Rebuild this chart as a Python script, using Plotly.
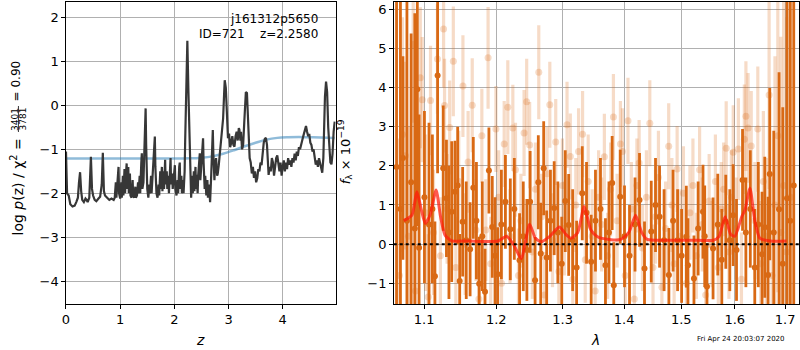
import plotly.graph_objects as go

# ---------------- redshift fit: log p(z) and chi2-based prior curve ----------------
z_grid = [0.00, 0.01, 0.02, 0.05, 0.08, 0.12, 0.16, 0.19, 0.22, 0.24,
          0.26, 0.28, 0.30, 0.33, 0.36, 0.38, 0.40, 0.43, 0.45, 0.46,
          0.48, 0.50, 0.53, 0.56, 0.60, 0.63, 0.66, 0.68, 0.70, 0.72,
          0.76, 0.80, 0.84, 0.88,
          0.90, 0.92, 0.93, 0.95, 0.97, 0.98, 1.00, 1.02, 1.03, 1.05,
          1.06, 1.08, 1.09, 1.11, 1.12, 1.13, 1.15, 1.16, 1.18, 1.19,
          1.21, 1.23, 1.24, 1.26, 1.28, 1.29, 1.31, 1.33, 1.34, 1.36,
          1.37, 1.39, 1.40, 1.41, 1.43, 1.44, 1.46, 1.47, 1.48, 1.50,
          1.52, 1.54, 1.55, 1.57, 1.58, 1.60, 1.62, 1.64, 1.65, 1.67,
          1.69, 1.71, 1.72, 1.74, 1.75, 1.77, 1.78, 1.80, 1.81, 1.83,
          1.84, 1.86, 1.87, 1.89, 1.90, 1.92, 1.93, 1.94, 1.96, 1.97,
          1.99, 2.01, 2.02, 2.04, 2.06, 2.07, 2.09, 2.10, 2.11, 2.13,
          2.14, 2.16, 2.17, 2.19,
          2.20, 2.22, 2.24, 2.26, 2.28, 2.30, 2.31, 2.33, 2.34, 2.36,
          2.37, 2.39, 2.40, 2.41, 2.43, 2.44, 2.46, 2.47, 2.48, 2.50,
          2.52, 2.53, 2.54, 2.56, 2.57, 2.59, 2.61, 2.62, 2.64, 2.66,
          2.68, 2.70, 2.71, 2.72, 2.74, 2.75, 2.77, 2.79, 2.80, 2.82,
          2.84, 2.86, 2.88, 2.90, 2.92, 2.93, 2.95, 2.97, 2.99, 3.01,
          3.03, 3.05, 3.07, 3.09, 3.11, 3.13, 3.15, 3.17, 3.19, 3.20,
          3.22, 3.23, 3.25, 3.27, 3.29, 3.31, 3.32, 3.34, 3.35, 3.37,
          3.39, 3.41, 3.43, 3.45, 3.47, 3.49, 3.51, 3.53, 3.55, 3.57,
          3.59, 3.61, 3.63, 3.65, 3.67, 3.69, 3.71, 3.72, 3.74, 3.76,
          3.78, 3.80, 3.82, 3.84, 3.86, 3.88, 3.90, 3.92, 3.94, 3.96,
          3.98, 4.00, 4.02, 4.04, 4.06, 4.08, 4.10, 4.12, 4.14, 4.16,
          4.18, 4.20, 4.22, 4.24, 4.26, 4.28, 4.30, 4.32, 4.34, 4.36,
          4.38, 4.40, 4.42, 4.43, 4.45, 4.47, 4.49, 4.51, 4.53, 4.55,
          4.57, 4.59, 4.61, 4.63, 4.65, 4.67, 4.69, 4.71, 4.73, 4.75,
          4.76, 4.78, 4.80, 4.82, 4.84, 4.86, 4.88, 4.90, 4.92, 4.94,
          4.96]
log_pz = [-1.05, -1.70, -2.00, -2.05, -2.25, -2.30, -2.28, -2.20, -2.10, -1.75,
          -1.52, -1.95, -2.15, -2.20, -2.12, -2.15, -2.20, -2.10, -1.60, -1.17,
          -1.90, -2.05, -2.15, -2.18, -2.12, -2.08, -1.80, -1.08, -1.95, -2.05,
          -2.10, -2.15, -2.12, -2.15,
          -2.10, -1.75, -2.10, -1.70, -1.40, -2.00, -2.12, -1.75, -2.10, -1.60,
          -2.05, -1.45, -2.00, -1.50, -1.32, -1.90, -1.40, -2.00, -1.55, -2.05,
          -2.10, -1.70, -2.05, -2.10, -1.85, -2.10, -2.05, -1.75, -2.00, -1.60,
          -2.00, -1.30, -1.09, -1.90, -1.75, -1.30, -0.50, -0.07, -0.90, -1.90,
          -2.10, -1.80, -2.00, -1.60, -2.00, -1.50, -1.10, -0.71, -1.40, -2.00,
          -2.10, -1.80, -2.05, -1.50, -1.90, -1.40, -1.95, -1.50, -1.90, -1.24,
          -1.80, -1.50, -1.90, -1.60, -2.00, -1.30, -1.20, -1.80, -1.55, -1.90,
          -1.50, -1.36, -1.90, -2.05, -1.70, -2.00, -1.40, -1.30, -1.90, -1.60,
          -2.00, -1.70, -2.00, -1.50,
          -0.80, 0.60, 1.47, 0.30, -0.90, -1.70, -2.10, -1.60, -2.00, -1.50,
          -1.95, -1.40, -1.90, -1.58, -2.00, -1.60, -1.30, -1.09, -1.70, -1.40,
          -1.00, -0.75, -1.30, -1.90, -1.60, -2.05, -1.70, -2.10, -1.80, -2.20,
          -1.60, -0.90, -0.56, -1.10, -1.70, -1.40, -1.20, -1.60, -1.56, -1.36,
          -1.10, -0.90, -0.70, -0.30, 0.30, 0.57, 0.40, -0.30, -0.75, -0.64,
          -0.95, -0.85, -0.70, -0.90, -0.94, -0.70, -0.60, -0.80, -0.52, -0.55,
          -0.80, -0.60, -1.00, -0.90, -0.40, 0.20, 0.30, 0.28, -0.10, -0.80,
          -1.20, -1.30, -1.55, -1.40, -1.65, -1.50, -1.75, -1.66, -1.45, -1.50,
          -1.30, -1.36, -1.00, -0.85, -0.76, -0.74, -0.90, -1.20, -1.58, -1.40,
          -1.50, -1.20, -1.30, -1.60, -1.40, -1.20, -1.14, -1.35, -1.50, -1.30,
          -1.60, -1.40, -1.25, -1.50, -1.30, -1.45, -1.20, -1.35, -1.25, -1.40,
          -1.20, -1.30, -1.10, -1.25, -1.05, -1.15, -0.95, -1.00, -0.85, -0.80,
          -0.70, -0.60, -0.50, -0.47, -0.60, -0.70, -0.65, -0.85, -0.90, -1.05,
          -1.00, -1.20, -1.35, -1.25, -1.40, -1.20, -1.30, -1.45, -1.53, -1.20,
          -0.70, 0.20, 0.54, 0.30, -0.50, -1.00, -1.30, -1.34, -1.10, -0.60,
          -0.37]

prior_z = [0.0, 0.5, 1.0, 1.5, 2.0, 2.3, 2.5, 2.7, 2.9, 3.1, 3.3, 3.5, 3.7, 3.9, 4.1, 4.3, 4.5, 4.7, 4.96]
prior_val = [-1.21, -1.21, -1.21, -1.21, -1.21, -1.205, -1.19, -1.16, -1.10, -1.02, -0.93, -0.85,
             -0.78, -0.74, -0.725, -0.72, -0.725, -0.73, -0.74]

# ---------------- 1D spectrum: per-beam (light) and combined (dark) ----------------
wave_beam = [1.0677, 1.0716, 1.0755, 1.0794, 1.0856, 1.0886, 1.0949, 1.0975, 1.1019, 1.1054,
             1.1085, 1.1125, 1.1178, 1.1218, 1.1261, 1.1274, 1.1309, 1.1344, 1.1394, 1.1429,
             1.1469, 1.1527, 1.1558, 1.1599, 1.1657, 1.1709, 1.1751, 1.1793, 1.1849, 1.1882,
             1.1920, 1.1995, 1.2034, 1.2076, 1.2115, 1.2168, 1.2200, 1.2242, 1.2281, 1.2325,
             1.2362, 1.2409, 1.2448, 1.2493, 1.2534, 1.2580, 1.2631, 1.2672, 1.2719, 1.2757,
             1.2800, 1.2842, 1.2892, 1.2941, 1.2996, 1.3027, 1.3069, 1.3121, 1.3160, 1.3208,
             1.3252, 1.3316, 1.3359, 1.3407, 1.3471, 1.3520, 1.3576, 1.3626, 1.3671, 1.3724,
             1.3774, 1.3821, 1.3883, 1.3938, 1.3973, 1.4019, 1.4066, 1.4123, 1.4174, 1.4218,
             1.4256, 1.4313, 1.4382, 1.4441, 1.4497, 1.4541, 1.4592, 1.4653, 1.4719, 1.4774,
             1.4831, 1.4871, 1.4925, 1.4984, 1.5039, 1.5093, 1.5157, 1.5212, 1.5275, 1.5335,
             1.5384, 1.5448, 1.5513, 1.5567, 1.5630, 1.5685, 1.5740, 1.5786, 1.5835, 1.5887,
             1.5934, 1.5970, 1.6026, 1.6069, 1.6129, 1.6185, 1.6216, 1.6258, 1.6320, 1.6393,
             1.6450, 1.6507, 1.6561, 1.6617, 1.6676, 1.6736, 1.6794, 1.6852, 1.6912, 1.6970,
             1.7032, 1.7114]
flux_beam = [-0.80, 2.80, 2.26, 0.20, 5.10, -1.20, 4.25, 3.69, 0.80, -1.35,
             3.67, 0.30, 4.73, -0.30, 5.50, 3.54, 0.90, 2.98, 4.67, -0.60,
             1.60, 4.04, 0.00, 2.10, 3.55, 0.36, -1.40, 2.77, 0.36, 4.76,
             -0.50, 2.94, 1.20, -1.00, 2.56, 3.50, 0.20, 2.97, 1.90, -0.80,
             0.60, 2.84, 3.64, 2.53, -0.20, 1.40, 4.39, 0.70, -1.30, 1.80,
             3.56, 0.10, 2.61, -0.70, 1.50, 0.40, 3.05, 2.24, -0.90, 1.00,
             2.37, 2.81, -0.40, 1.60, 0.20, -1.20, 1.20, 0.50, 2.23, -0.30,
             1.40, 3.25, 0.60, 2.56, 2.37, -0.80, 3.15, 0.90, -1.40, 1.50,
             2.07, -0.10, 1.20, 3.09, -0.60, 0.70, 1.70, -1.10, 0.40, 2.50,
             1.00, -0.50, 1.92, 0.20, 1.30, -1.00, 0.80, 1.50, -0.30, 1.90,
             0.50, -1.30, 1.10, 0.00, 1.60, -0.60, 0.90, 1.40, 2.45, -0.20,
             1.20, 2.35, 0.40, 2.43, -0.90, 2.68, 3.27, 2.97, 2.51, 0.60,
             2.94, -0.50, 1.60, 0.20, 3.81, -0.80, 1.00, 2.77, 0.30, 1.50,
             -0.20, 1.20]
err_beam = [3.5, 3.0, 2.4, 2.8, 2.0, 2.2, 1.8, 1.6, 2.0, 1.6,
            1.4, 1.6, 1.4, 1.5, 1.5, 1.2, 1.4, 1.2, 1.4, 1.3,
            1.3, 1.3, 1.3, 1.3, 1.2, 1.3, 1.2, 1.2, 1.3, 1.3,
            1.2, 1.1, 1.2, 1.2, 1.1, 1.2, 1.2, 1.1, 1.2, 1.2,
            1.2, 1.1, 1.1, 1.1, 1.2, 1.2, 1.2, 1.1, 1.1, 1.2,
            1.1, 1.2, 1.1, 1.1, 1.2, 1.2, 1.1, 1.1, 1.1, 1.2,
            1.1, 1.1, 1.1, 1.2, 1.2, 1.1, 1.2, 1.2, 1.1, 1.1,
            1.2, 1.1, 1.2, 1.1, 1.1, 1.1, 1.1, 1.2, 1.1, 1.2,
            1.1, 1.1, 1.2, 1.1, 1.1, 1.2, 1.2, 1.1, 1.2, 1.1,
            1.2, 1.1, 1.1, 1.2, 1.2, 1.1, 1.2, 1.2, 1.1, 1.1,
            1.2, 1.1, 1.2, 1.1, 1.2, 1.1, 1.2, 1.2, 1.2, 1.2,
            1.2, 1.2, 1.3, 1.3, 1.2, 1.4, 1.4, 1.4, 1.4, 1.5,
            1.6, 1.6, 1.8, 2.0, 2.4, 2.6, 3.8, 4.0, 5.0, 5.5,
            6.0, 6.0]

wave_comb = [1.0640, 1.0690, 1.0722, 1.0774, 1.0829, 1.0877, 1.0910, 1.0933, 1.1004, 1.1065,
             1.1110, 1.1144, 1.1180, 1.1256, 1.1300, 1.1334, 1.1372, 1.1417, 1.1454, 1.1482,
             1.1523, 1.1573, 1.1627, 1.1672, 1.1716, 1.1755, 1.1799, 1.1838, 1.1894, 1.1942,
             1.1982, 1.2021, 1.2074, 1.2133, 1.2205, 1.2264, 1.2342, 1.2397, 1.2451, 1.2500,
             1.2575, 1.2624, 1.2661, 1.2706, 1.2752, 1.2810, 1.2868, 1.2925, 1.2986, 1.3041,
             1.3095, 1.3158, 1.3221, 1.3311, 1.3380, 1.3455, 1.3525, 1.3607, 1.3689, 1.3747,
             1.3800, 1.3827, 1.3935, 1.4007, 1.4092, 1.4186, 1.4263, 1.4349, 1.4466, 1.4541,
             1.4612, 1.4692, 1.4777, 1.4852, 1.4933, 1.5006, 1.5091, 1.5121, 1.5231, 1.5308,
             1.5398, 1.5430, 1.5472, 1.5586, 1.5675, 1.5751, 1.5827, 1.5904, 1.5968, 1.6033,
             1.6150, 1.6215, 1.6302, 1.6390, 1.6460, 1.6535, 1.6589, 1.6655, 1.6689, 1.6770,
             1.6877, 1.6953, 1.7040, 1.7106, 1.7179]
flux_comb = [1.97, 0.90, 2.20, 0.60, 1.58, 0.40, 3.96, -0.09, 1.20, 0.50,
             0.90, -0.82, 4.31, 1.94, 1.17, 0.30, 0.83, 1.34, 1.50, -0.94,
             0.57, 0.10, -0.13, 1.44, 0.60, -1.01, 0.20, -1.22, 1.88, 0.44,
             -0.30, -0.77, 0.50, 1.08, 0.38, 0.90, -0.41, 0.20, -0.15, 1.08,
             -0.92, 1.58, -0.24, 1.94, -0.34, 0.60, 0.92, 0.30, -0.50, 1.10,
             0.49, 0.10, -0.60, 1.30, 0.80, -0.45, 0.60, 0.90, -0.54, 0.30,
             1.56, -1.05, 1.21, 0.20, -0.30, 0.50, 1.13, -0.62, 0.32, 1.00,
             0.70, 0.10, -0.79, 0.60, 0.10, -0.30, 0.19, -0.54, -0.88, 0.40,
             0.83, 0.20, -1.08, -0.11, 0.50, -0.40, 0.57, 0.10, 0.74, -0.15,
             1.64, 0.30, 0.90, -0.60, 0.50, -0.26, 0.43, -0.79, 1.79, 0.30,
             0.89, -0.50, 1.17, 0.60, 1.50]
err_comb = [5.5, 6.0, 2.6, 6.0, 3.8, 5.5, 3.5, 3.4, 2.2, 2.6,
            1.9, 1.4, 2.5, 1.6, 1.5, 1.7, 1.8, 1.3, 1.5, 1.2,
            1.4, 1.5, 1.2, 1.3, 1.5, 1.2, 1.4, 1.1, 1.1, 1.3,
            1.5, 1.2, 1.4, 1.2, 1.3, 1.3, 1.2, 1.4, 1.3, 1.3,
            1.1, 1.2, 1.3, 1.2, 1.2, 1.3, 1.2, 1.3, 1.2, 1.3,
            1.3, 1.3, 1.2, 1.2, 1.3, 1.2, 1.3, 1.3, 1.2, 1.3,
            1.2, 1.1, 1.2, 1.3, 1.3, 1.2, 1.2, 1.2, 1.3, 1.2,
            1.3, 1.3, 1.2, 1.3, 1.3, 1.2, 1.3, 1.2, 1.1, 1.2,
            1.2, 1.3, 1.1, 1.3, 1.3, 1.3, 1.2, 1.3, 1.3, 1.3,
            1.3, 1.4, 1.5, 1.5, 1.6, 1.6, 1.8, 2.0, 2.2, 2.6,
            3.5, 4.0, 6.0, 7.0, 7.0]

# best-fit template, smoothed
wave_model = [1.0732, 1.0839, 1.0904, 1.0960, 1.1014, 1.1080, 1.1160, 1.1220, 1.1281, 1.1372,
              1.1600, 1.2027, 1.2148, 1.2250, 1.2367, 1.2492, 1.2580, 1.2668, 1.2800, 1.2949,
              1.3050, 1.3132, 1.3240, 1.3342, 1.3451, 1.3559, 1.3750, 1.3943, 1.4080, 1.4196,
              1.4300, 1.4397, 1.4800, 1.5200, 1.5594, 1.5700, 1.5814, 1.5920, 1.6000, 1.6134,
              1.6198, 1.6295, 1.6390, 1.6492, 1.6700, 1.7028]
flux_model = [0.60, 0.74, 1.34, 0.90, 0.53, 0.75, 1.38, 0.70, 0.23, 0.085,
              0.08, 0.08, 0.20, 0.00, -0.37, 0.51, 0.15, 0.06, 0.20, 0.44,
              0.25, 0.15, 0.30, 0.96, 0.36, 0.19, 0.12, 0.12, 0.30, 0.74,
              0.30, 0.12, 0.10, 0.10, 0.10, 0.20, 0.70, 0.25, 0.20, 0.70,
              0.87, 1.43, 0.60, 0.15, 0.08, 0.08]

z_ticks = [0, 1, 2, 3, 4]
logp_ticks = [-4, -3, -2, -1, 0, 1, 2]
wave_ticks = [1.1, 1.2, 1.3, 1.4, 1.5, 1.6, 1.7]
flux_ticks = [-1, 0, 1, 2, 3, 4, 5, 6]

ORANGE = "rgb(217,105,20)"
ORANGE_LIGHT = "rgba(217,105,20,0.24)"
FONT = "DejaVu Sans"
W, H = 800, 350

fig = go.Figure()

# left panel
fig.add_trace(go.Scatter(x=prior_z, y=prior_val, mode="lines", xaxis="x", yaxis="y",
                         line=dict(color="rgba(31,119,180,0.5)", width=2.5, shape="spline"),
                         showlegend=False, hoverinfo="skip"))
fig.add_trace(go.Scatter(x=z_grid, y=log_pz, mode="lines", xaxis="x", yaxis="y",
                         line=dict(color="rgb(55,55,55)", width=2.2),
                         showlegend=False, hoverinfo="skip"))

# right panel
fig.add_trace(go.Scatter(x=wave_beam, y=flux_beam, mode="markers", xaxis="x2", yaxis="y2",
                         marker=dict(color=ORANGE_LIGHT, size=7),
                         error_y=dict(type="data", array=err_beam, visible=True,
                                      color=ORANGE_LIGHT, thickness=3.2, width=0),
                         showlegend=False, hoverinfo="skip"))
fig.add_trace(go.Scatter(x=wave_comb, y=flux_comb, mode="markers", xaxis="x2", yaxis="y2",
                         marker=dict(color=ORANGE, size=6),
                         error_y=dict(type="data", array=err_comb, visible=True,
                                      color=ORANGE, thickness=2.8, width=0),
                         showlegend=False, hoverinfo="skip"))
fig.add_trace(go.Scatter(x=wave_model, y=flux_model, mode="lines", xaxis="x2", yaxis="y2",
                         line=dict(color="rgba(255,25,10,0.72)", width=3, shape="spline",
                                   smoothing=0.6),
                         showlegend=False, hoverinfo="skip"))

fig.add_shape(type="line", xref="x2 domain", yref="y2", x0=0, x1=1, y0=0, y1=0,
              line=dict(color="black", width=2, dash="dot"), layer="above")

# plot-area geometry in pixels
L1, R1 = 62.3, 333.3
L2, R2 = 391.7, 799.0
TOP, BOT = 1.5, 304.0


def px_x(p):
    return p / W


def px_y(p):
    return (H - p) / H


axis_common = dict(showline=True, mirror=True, linecolor="black", linewidth=1.2,
                   ticks="outside", ticklen=3.5, tickwidth=1, tickcolor="black",
                   showgrid=True, gridcolor="#b0b0b0", gridwidth=1, zeroline=False,
                   tickfont=dict(family=FONT, size=13, color="black"))

fig.update_layout(
    width=W, height=H, margin=dict(l=0, r=0, t=0, b=0),
    paper_bgcolor="white", plot_bgcolor="white",
    font=dict(family=FONT, color="black"),
    xaxis=dict(domain=[px_x(L1), px_x(R1)], anchor="y", range=[0, 4.977],
               tickvals=z_ticks, **axis_common),
    yaxis=dict(domain=[px_y(BOT), px_y(TOP)], anchor="x", range=[-4.516, 2.36],
               tickvals=logp_ticks, **axis_common),
    xaxis2=dict(domain=[px_x(L2), px_x(R2)], anchor="y2", type="log",
                range=[0.02547, 0.23775], tickvals=wave_ticks,
                ticktext=[f"{v:.1f}" for v in wave_ticks], **axis_common),
    yaxis2=dict(domain=[px_y(BOT), px_y(TOP)], anchor="x2", range=[-1.53, 6.2],
                tickvals=flux_ticks, **axis_common),
)

ann = []
# object label
ann.append(dict(text="j161312p5650", x=px_x(318), y=px_y(19), xref="paper", yref="paper",
                xanchor="right", yanchor="middle", showarrow=False,
                font=dict(family=FONT, size=12)))
ann.append(dict(text="ID=721    z=2.2580", x=px_x(318), y=px_y(34), xref="paper", yref="paper",
                xanchor="right", yanchor="middle", showarrow=False,
                font=dict(family=FONT, size=12)))
# axis titles
ann.append(dict(text="<i>z</i>", x=px_x(197), y=px_y(340), xref="paper", yref="paper",
                xanchor="center", yanchor="middle", showarrow=False,
                font=dict(family=FONT, size=14)))
ann.append(dict(text="<i>λ</i>", x=px_x(594), y=px_y(340), xref="paper", yref="paper",
                xanchor="center", yanchor="middle", showarrow=False,
                font=dict(family=FONT, size=14)))
ann.append(dict(text="<i>f</i><sub>λ</sub> × 10<sup>−19</sup>", x=px_x(343), y=px_y(152),
                xref="paper", yref="paper", xanchor="center", yanchor="middle",
                textangle=-90, showarrow=False, font=dict(family=FONT, size=13)))
# left y-axis title with stacked fraction
ann.append(dict(text="log <i>p</i>(z) / χ<sup>2</sup> =", x=px_x(13), y=px_y(136),
                xref="paper", yref="paper", xanchor="center", yanchor="top",
                textangle=-90, showarrow=False, font=dict(family=FONT, size=14)))
ann.append(dict(text="3401", x=px_x(11), y=px_y(119), xref="paper", yref="paper",
                xanchor="center", yanchor="middle", textangle=-90, showarrow=False,
                font=dict(family=FONT, size=9)))
ann.append(dict(text="3781", x=px_x(19.5), y=px_y(119), xref="paper", yref="paper",
                xanchor="center", yanchor="middle", textangle=-90, showarrow=False,
                font=dict(family=FONT, size=9)))
ann.append(dict(text="= 0.90", x=px_x(13), y=px_y(103), xref="paper", yref="paper",
                xanchor="center", yanchor="bottom", textangle=-90, showarrow=False,
                font=dict(family=FONT, size=12)))
# timestamp
ann.append(dict(text="Fri Apr 24 20:03:07 2020", x=px_x(787), y=px_y(339), xref="paper",
                yref="paper", xanchor="right", yanchor="middle", showarrow=False,
                font=dict(family=FONT, size=7)))
fig.update_layout(annotations=ann)

# fraction bar
fig.add_shape(type="line", xref="paper", yref="paper", x0=px_x(14.5), x1=px_x(14.5),
              y0=px_y(106), y1=px_y(132), line=dict(color="black", width=0.8))

fig.write_html("out.html")
